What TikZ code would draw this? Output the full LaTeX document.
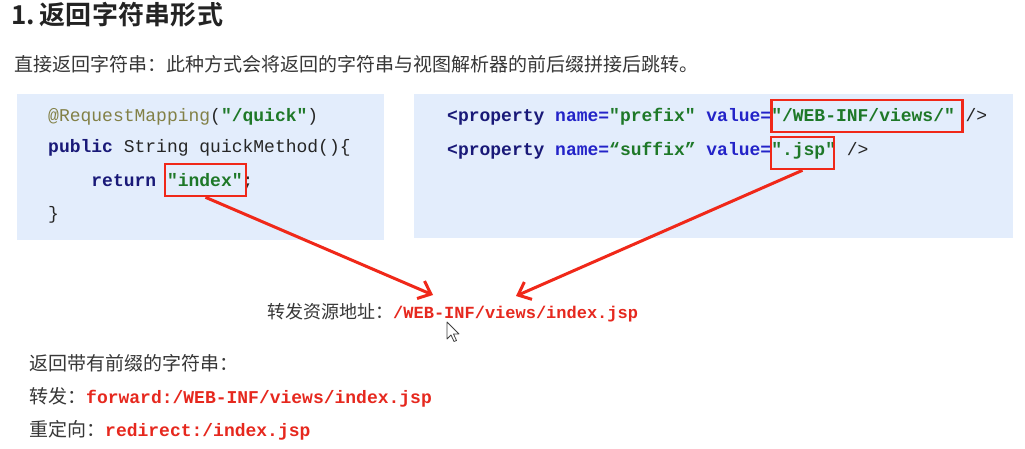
\documentclass[tikz,border=0pt]{standalone}
\usepackage{fontspec}
\setmainfont{Noto Sans CJK SC}[BoldFont={Noto Sans CJK SC Bold}]
\newfontfamily\cjk{Noto Sans CJK SC}[BoldFont={Noto Sans CJK SC Bold}]
\newfontfamily\codefont{Liberation Mono}
\usetikzlibrary{arrows.meta}
\definecolor{boxblue}{RGB}{227,237,252}
\definecolor{redline}{RGB}{240,40,25}
\definecolor{redtext}{RGB}{230,40,30}
\definecolor{olivec}{RGB}{130,128,70}
\definecolor{kwnavy}{RGB}{25,25,120}
\definecolor{attrblue}{RGB}{35,35,200}
\definecolor{strgreen}{RGB}{30,120,40}
\definecolor{bodytext}{RGB}{55,55,55}
\definecolor{titletext}{RGB}{35,35,35}
\tikzset{
  codebox/.style={fill=boxblue, draw=none},
  codeline/.style={anchor=west, inner sep=0pt, font=\codefont\fontsize{18}{20}\selectfont, text=black!85},
  bodyline/.style={anchor=west, inner sep=0pt, text=bodytext},
  hilite/.style={draw=redline, line width=2.6pt, minimum height=32pt, inner sep=0pt},
  redarrow/.style={draw=redline, line width=3pt, -{Straight Barb[length=11pt,width=19pt]}},
}
\newcommand{\kw}[1]{\textbf{\color{kwnavy}#1}}
\newcommand{\at}[1]{\textbf{\color{attrblue}#1}}
\newcommand{\str}[1]{\textbf{\color{strgreen}#1}}
\newcommand{\redcode}[1]{{\codefont\bfseries\color{redtext}#1}}
\begin{document}
\begin{tikzpicture}[x=1pt,y=-1pt]
\useasboundingbox (0,0) rectangle (1025,449);
\fill[white] (0,0) rectangle (1025,449);

% title and intro
\node[anchor=west, inner sep=0pt, text=titletext, font=\cjk\bfseries\fontsize{26}{28}\selectfont\addfontfeatures{LetterSpace=1}] (title) at (11,15) {1.\,返回字符串形式};
\node[bodyline, font=\cjk\fontsize{19}{21}\selectfont] (intro) at (14,64) {直接返回字符串：此种方式会将返回的字符串与视图解析器的前后缀拼接后跳转。};

% code boxes
\node[codebox, minimum width=367pt, minimum height=146pt, inner sep=0pt] (lbox) at (200.5,167) {};
\node[codebox, minimum width=599pt, minimum height=144pt, inner sep=0pt] (rbox) at (713.5,166) {};

% left code
\node[codeline] (l1) at (48,117) {{\color{olivec}@RequestMapping}(\str{"/quick"})};
\node[codeline] (l2) at (48,148) {\kw{public} String quickMethod()\{};
\node[codeline] (l3) at (91.2,182) {\kw{return} \str{"index"};};
\node[codeline] (l4) at (48,215) {\}};

% right code
\node[codeline] (r1) at (447,117) {\kw{<property} \at{name=}\str{"prefix"} \at{value=}\str{"/WEB-INF/views/"} />};
\node[codeline] (r2) at (447,151) {\kw{<property} \at{name=}\str{“suffix”} \at{value=}\str{".jsp"} />};

% highlight boxes
\node[hilite, minimum width=81pt] (idx) at (205.5,180) {};
\node[hilite, minimum width=191pt] (pre) at (867,116) {};
\node[hilite, minimum width=63pt] (suf) at (802.5,153) {};

% result label
\node[bodyline, font=\cjk\fontsize{18}{20}\selectfont] (res) at (267,313) {转发资源地址：\redcode{\fontsize{17}{19}\selectfont /WEB-INF/views/index.jsp}};

\coordinate (tipA) at (433,295);
\coordinate (tipB) at (516,296);
\draw[redarrow] (idx.south) -- (tipA);
\draw[redarrow] (suf.south) -- (tipB);

% mouse pointer
\draw[fill=white, draw=black!75, line width=0.8pt, line join=round]
  (447,322) -- (447,339) -- (451,335) -- (454,341.5) -- (456.5,340.5) -- (453.5,334) -- (459,334) -- cycle;

% bottom lines
\node[bodyline, font=\cjk\fontsize{19}{21}\selectfont] (b1) at (29,363) {返回带有前缀的字符串：};
\node[bodyline, font=\cjk\fontsize{19}{21}\selectfont] (b2) at (29,397) {转发：\redcode{\fontsize{18}{20}\selectfont forward:/WEB-INF/views/index.jsp}};
\node[bodyline, font=\cjk\fontsize{19}{21}\selectfont] (b3) at (29,430) {重定向：\redcode{\fontsize{18}{20}\selectfont redirect:/index.jsp}};
\end{tikzpicture}
\end{document}
